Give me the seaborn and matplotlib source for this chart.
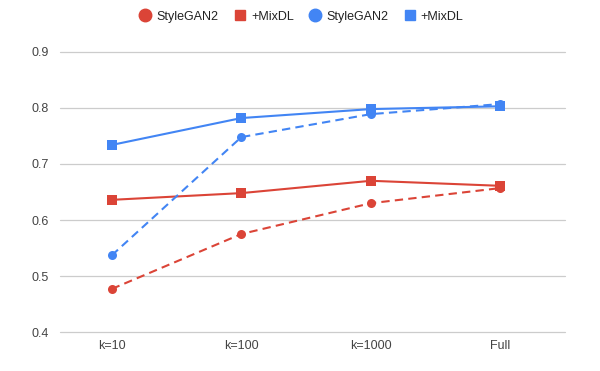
import matplotlib
matplotlib.use("Agg")
import matplotlib.pyplot as plt
from matplotlib.lines import Line2D
import seaborn as sns
import pandas as pd

categories = ["k=10", "k=100", "k=1000", "Full"]
red_stylegan2 = [0.477, 0.575, 0.630, 0.657]
red_mixdl = [0.636, 0.648, 0.670, 0.661]
blue_stylegan2 = [0.537, 0.748, 0.789, 0.807]
blue_mixdl = [0.734, 0.782, 0.798, 0.803]
legend_labels = ["StyleGAN2", "+MixDL", "StyleGAN2", "+MixDL"]
yticks = [0.4, 0.5, 0.6, 0.7, 0.8, 0.9]

RED = "#DB4437"
BLUE = "#4285F4"

sns.set_theme(style="white")
plt.rcParams['font.family'] = ['Liberation Sans', 'DejaVu Sans']

fig = plt.figure(figsize=(6, 3.71), dpi=100)
ax = fig.add_axes([0.1, 0.105, 0.842, 0.755])

x = list(range(len(categories)))
series = [
    (red_stylegan2, RED, "o", (4, 2.5)),
    (red_mixdl, RED, "s", ""),
    (blue_stylegan2, BLUE, "o", (4, 2.5)),
    (blue_mixdl, BLUE, "s", ""),
]
for vals, col, mk, dash in series:
    df = pd.DataFrame({"x": x, "y": vals})
    sns.lineplot(data=df, x="x", y="y", ax=ax, color=col, marker=mk,
                 markersize=6.5, markeredgewidth=0, linewidth=1.5)
    line = ax.lines[-1]
    if dash:
        line.set_dashes(dash)

ax.set_xlim(-0.4, 3.5)
ax.set_ylim(0.4, 0.9)
ax.set_yticks(yticks)
ax.set_yticklabels([f"{v:.1f}" for v in yticks])
ax.set_xticks(x)
ax.set_xticklabels(categories)
ax.set_xlabel("")
ax.set_ylabel("")
ax.grid(axis="y", color="#cccccc", linewidth=0.9)
ax.grid(axis="x", visible=False)
for gl in ax.get_ygridlines():
    gl.set_clip_on(False)
for s in ax.spines.values():
    s.set_visible(False)
ax.tick_params(axis="both", length=0, labelsize=9, colors="#444444", pad=8)
ax.tick_params(axis="x", pad=6)

handles = [
    Line2D([], [], color=RED, marker="o", linestyle="none", markersize=9),
    Line2D([], [], color=RED, marker="s", linestyle="none", markersize=7),
    Line2D([], [], color=BLUE, marker="o", linestyle="none", markersize=9),
    Line2D([], [], color=BLUE, marker="s", linestyle="none", markersize=7),
]
fig.legend(handles, legend_labels, loc="center", bbox_to_anchor=(0.5, 0.955),
           ncol=4, frameon=False, fontsize=9, handletextpad=0.2,
           columnspacing=1.0, handlelength=1.4, labelcolor="#222222")

fig.savefig("out.png", dpi=100, facecolor="white")
